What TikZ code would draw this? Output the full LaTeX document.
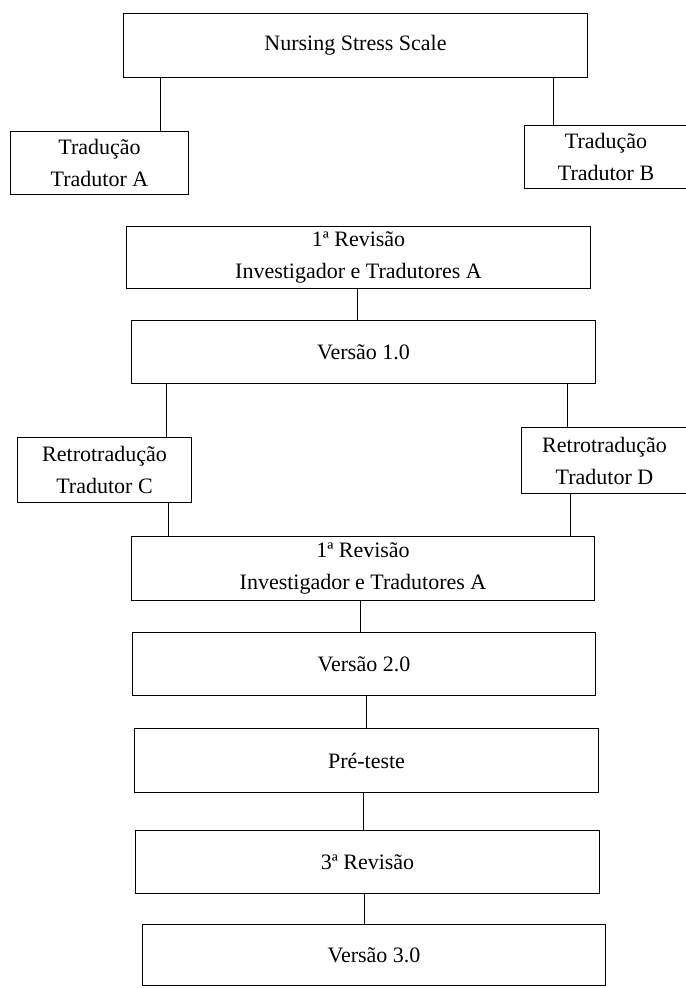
\documentclass[tikz,border=0pt]{standalone}
\usepackage{fontspec}
\setmainfont{Liberation Serif}
\begin{document}
\begin{tikzpicture}[x=0.5pt,y=-0.5pt,
  bx/.style 2 args={draw, line width=0.5pt, anchor=north west, inner sep=0pt,
    minimum width=#1*0.5pt, minimum height=#2*0.5pt, align=center,
    font=\fontsize{11pt}{16pt}\selectfont},
  link/.style={line width=0.5pt}]
\useasboundingbox (0,0) rectangle (685,988);
\node[bx={464}{64}] (N) at (123,13) {Nursing Stress Scale};
\node[bx={178}{63}] (TA) at (10,131) {Tradução\\Tradutor A};
\node[bx={163}{63}] (TB) at (524,125) {Tradução\\Tradutor B};
\node[bx={464}{62}] (R1) at (126,226) {1ª Revisão\\Investigador e Tradutores A};
\node[bx={464}{63}] (V1) at (131,320) {Versão 1.0};
\node[bx={174}{65}] (C) at (17,437) {Retrotradução\\Tradutor C};
\node[bx={166}{66}] (D) at (521,427) {Retrotradução\\Tradutor D};
\node[bx={463}{64}] (R2) at (131,536) {1ª Revisão\\Investigador e Tradutores A};
\node[bx={463}{63}] (V2) at (132,632) {Versão 2.0};
\node[bx={464}{64}] (P) at (134,728) {Pré-teste};
\node[bx={464}{63}] (R3) at (135,830) {3ª Revisão};
\node[bx={463}{61}] (V3) at (142,924) {Versão 3.0};
\draw[link] (N.south -| 160,0) -- (TA.north -| 160,0);
\draw[link] (N.south -| 553,0) -- (TB.north -| 553,0);
\draw[link] (R1.south -| 357,0) -- (V1.north -| 357,0);
\draw[link] (V1.south -| 166,0) -- (C.north -| 166,0);
\draw[link] (V1.south -| 567,0) -- (D.north -| 567,0);
\draw[link] (C.south -| 168,0) -- (R2.north -| 168,0);
\draw[link] (D.south -| 570,0) -- (R2.north -| 570,0);
\draw[link] (R2.south -| 360,0) -- (V2.north -| 360,0);
\draw[link] (V2.south -| 366,0) -- (P.north -| 366,0);
\draw[link] (P.south -| 363,0) -- (R3.north -| 363,0);
\draw[link] (R3.south -| 364,0) -- (V3.north -| 364,0);
\end{tikzpicture}
\end{document}
